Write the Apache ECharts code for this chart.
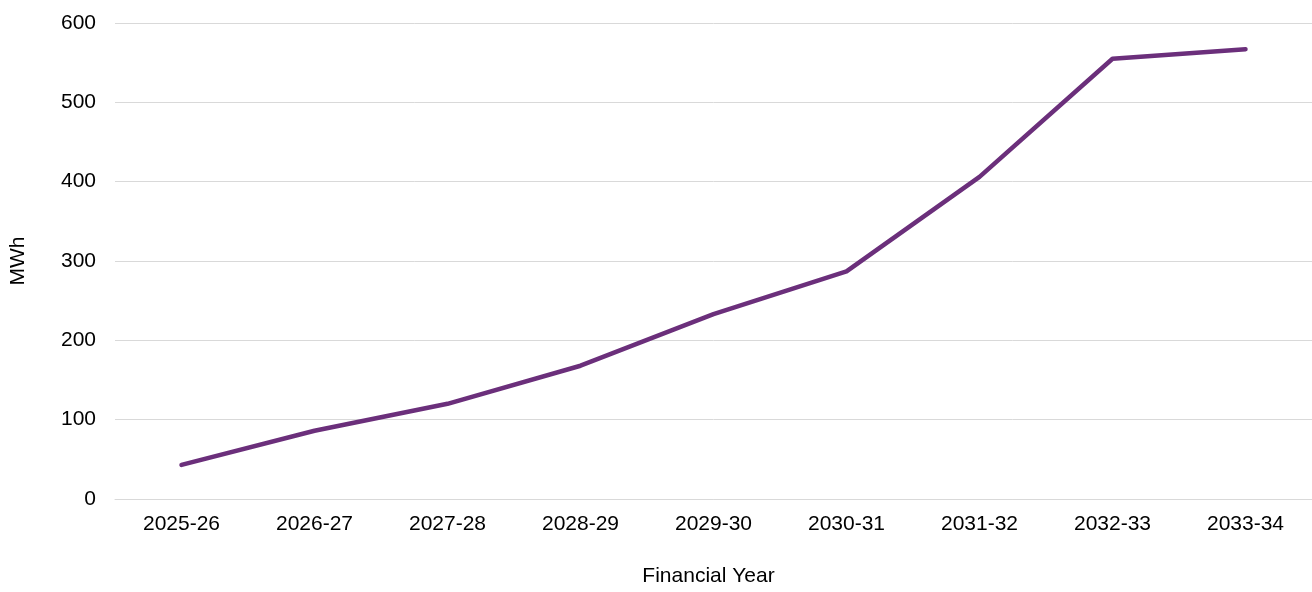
<!DOCTYPE html>
<html>
<head>
<meta charset="utf-8">
<script src="https://cdn.jsdelivr.net/npm/echarts@6/dist/echarts.min.js"></script>
<style>
  html, body { margin: 0; padding: 0; background: #fff; }
  #chart { width: 1312px; height: 592px; }
</style>
</head>
<body>
<div id="chart"></div>
<script>
// data
var years = ['2025-26', '2026-27', '2027-28', '2028-29', '2029-30', '2030-31', '2031-32', '2032-33', '2033-34'];
var mwh = [43, 86, 120, 168, 233, 287, 406, 555, 567];
var yTicks = [0, 100, 200, 300, 400, 500, 600];

var font = '"Liberation Sans", Arial, sans-serif';
var myChart = echarts.init(document.getElementById('chart'));

var option = {
  animation: false,
  grid: {
    left: 115,
    right: 0,
    top: 23,
    bottom: 89
  },
  xAxis: {
    type: 'category',
    data: years,
    boundaryGap: true,
    name: 'Financial Year',
    nameLocation: 'middle',
    nameGap: 67,
    nameTextStyle: { color: '#000', fontSize: 21, fontFamily: font, padding: [0, 10, 0, 0] },
    axisLine: { show: true, lineStyle: { color: '#d9d9d9', width: 1 } },
    axisTick: { show: false },
    axisLabel: { color: '#000', fontSize: 21, fontFamily: font, margin: 15 }
  },
  yAxis: {
    type: 'value',
    min: yTicks[0],
    max: yTicks[yTicks.length - 1],
    interval: 100,
    name: 'MWh',
    nameLocation: 'middle',
    nameGap: 86,
    nameTextStyle: { color: '#000', fontSize: 21, fontFamily: font },
    axisLine: { show: false },
    axisTick: { show: false },
    axisLabel: { color: '#000', fontSize: 21, fontFamily: font, margin: 19 },
    splitLine: { lineStyle: { color: '#d9d9d9', width: 1 } }
  },
  series: [{
    name: 'MWh',
    type: 'line',
    data: mwh,
    symbol: 'none',
    lineStyle: { color: '#6b2f7b', width: 4.5, cap: 'round', join: 'round' }
  }]
};
myChart.setOption(option);
</script>
</body>
</html>
